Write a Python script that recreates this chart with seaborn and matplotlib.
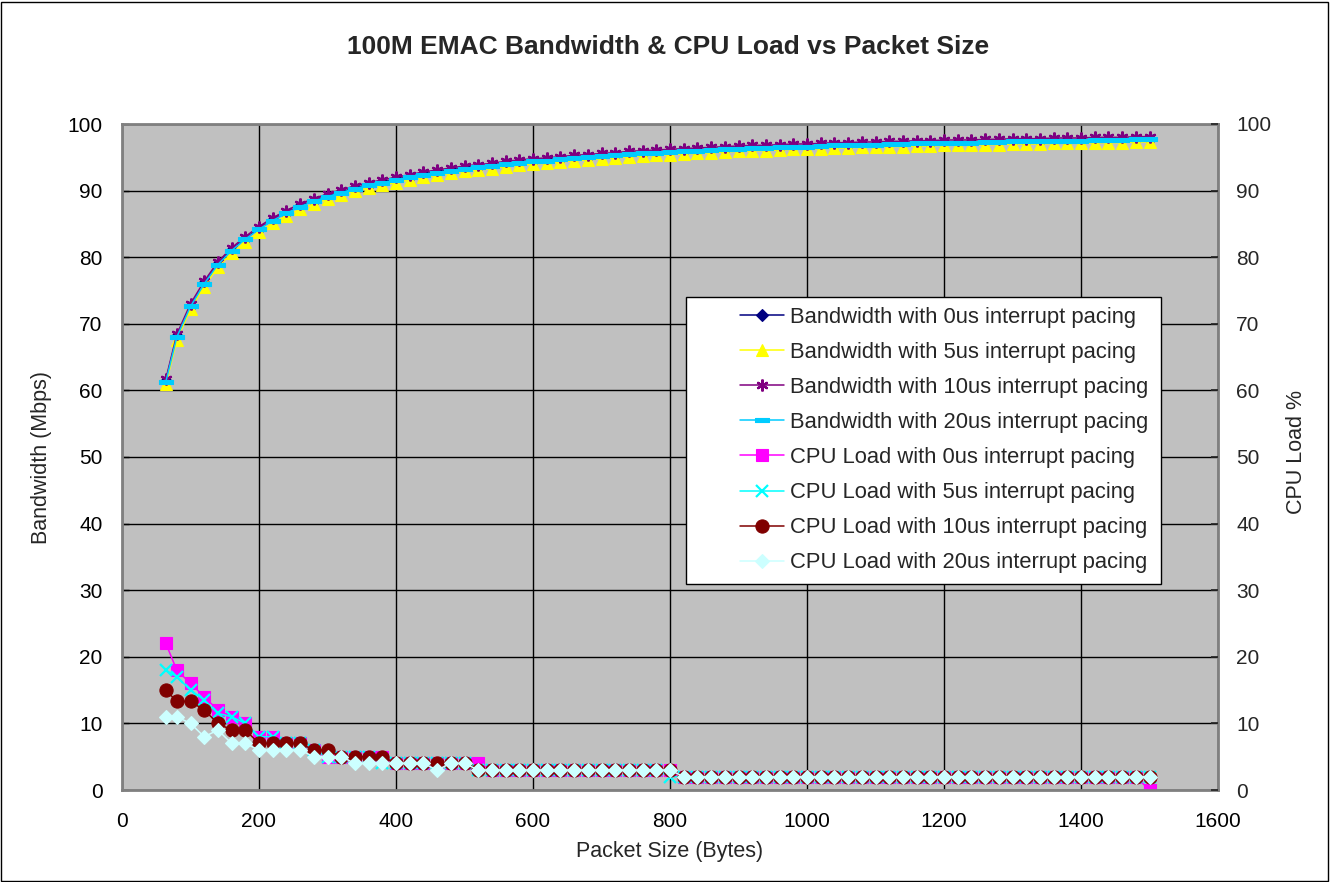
"""Recreate the 100M EMAC bandwidth and CPU load vs packet size chart."""

import matplotlib

matplotlib.use("Agg")
import matplotlib.pyplot as plt
import seaborn as sns
from matplotlib.patches import Rectangle

# Packet sizes (bytes)
sizes = [
    64, 80, 100, 120, 140, 160, 180, 200, 220, 240,
    260, 280, 300, 320, 340, 360, 380, 400, 420, 440,
    460, 480, 500, 520, 540, 560, 580, 600, 620, 640,
    660, 680, 700, 720, 740, 760, 780, 800, 820, 840,
    860, 880, 900, 920, 940, 960, 980, 1000, 1020, 1040,
    1060, 1080, 1100, 1120, 1140, 1160, 1180, 1200, 1220, 1240,
    1260, 1280, 1300, 1320, 1340, 1360, 1380, 1400, 1420, 1440,
    1460, 1480, 1500,
]

# Bandwidth (Mbps)
bw_0us = [
    61.4, 68.1, 72.7, 76.1, 79.0, 81.1, 82.8, 84.3, 85.6, 86.7,
    87.7, 88.5, 89.2, 89.8, 90.4, 90.9, 91.3, 91.7, 92.1, 92.5,
    92.8, 93.1, 93.4, 93.6, 93.8, 94.1, 94.3, 94.5, 94.6, 94.8,
    95.0, 95.1, 95.3, 95.4, 95.6, 95.7, 95.8, 95.9, 96.0, 96.1,
    96.2, 96.3, 96.4, 96.5, 96.5, 96.6, 96.7, 96.7, 96.8, 96.9,
    96.9, 97.0, 97.0, 97.1, 97.1, 97.2, 97.2, 97.3, 97.3, 97.3,
    97.4, 97.4, 97.5, 97.5, 97.5, 97.6, 97.6, 97.6, 97.7, 97.7,
    97.7, 97.8, 97.8,
]
bw_5us = [
    60.9, 67.6, 72.2, 75.6, 78.5, 80.6, 82.3, 83.8, 85.1, 86.2,
    87.2, 88.0, 88.7, 89.3, 89.9, 90.4, 90.8, 91.2, 91.6, 92.0,
    92.3, 92.6, 92.9, 93.1, 93.3, 93.6, 93.8, 94.0, 94.1, 94.3,
    94.5, 94.6, 94.8, 94.9, 95.1, 95.2, 95.3, 95.4, 95.5, 95.6,
    95.7, 95.8, 95.9, 96.0, 96.0, 96.1, 96.2, 96.2, 96.3, 96.4,
    96.4, 96.5, 96.5, 96.6, 96.6, 96.7, 96.7, 96.8, 96.8, 96.8,
    96.9, 96.9, 97.0, 97.0, 97.0, 97.1, 97.1, 97.1, 97.2, 97.2,
    97.2, 97.3, 97.3,
]
bw_10us = [
    61.7, 68.4, 73.0, 76.4, 79.3, 81.4, 83.1, 84.6, 85.9, 87.0,
    88.0, 88.8, 89.5, 90.1, 90.7, 91.2, 91.6, 92.0, 92.4, 92.8,
    93.1, 93.4, 93.7, 93.9, 94.1, 94.4, 94.6, 94.8, 94.9, 95.1,
    95.3, 95.4, 95.6, 95.7, 95.9, 96.0, 96.1, 96.2, 96.3, 96.4,
    96.5, 96.6, 96.7, 96.8, 96.8, 96.9, 97.0, 97.0, 97.1, 97.2,
    97.2, 97.3, 97.3, 97.4, 97.4, 97.5, 97.5, 97.6, 97.6, 97.6,
    97.7, 97.7, 97.8, 97.8, 97.8, 97.9, 97.9, 97.9, 98.0, 98.0,
    98.0, 98.1, 98.1,
]
bw_20us = [
    61.3, 68.0, 72.6, 76.0, 78.9, 81.0, 82.7, 84.2, 85.5, 86.6,
    87.6, 88.4, 89.1, 89.7, 90.3, 90.8, 91.2, 91.6, 92.0, 92.4,
    92.7, 93.0, 93.3, 93.5, 93.7, 94.0, 94.2, 94.4, 94.5, 94.7,
    94.9, 95.0, 95.2, 95.3, 95.5, 95.6, 95.7, 95.8, 95.9, 96.0,
    96.1, 96.2, 96.3, 96.4, 96.4, 96.5, 96.6, 96.6, 96.7, 96.8,
    96.8, 96.9, 96.9, 97.0, 97.0, 97.1, 97.1, 97.2, 97.2, 97.2,
    97.3, 97.3, 97.4, 97.4, 97.4, 97.5, 97.5, 97.5, 97.6, 97.6,
    97.6, 97.7, 97.7,
]

# CPU load (%)
cpu_0us = [
    22, 18, 16, 14, 12, 11, 10, 8, 8, 7,
    7, 6, 5, 5, 5, 5, 5, 4, 4, 4,
    4, 4, 4, 4, 3, 3, 3, 3, 3, 3,
    3, 3, 3, 3, 3, 3, 3, 3, 2, 2,
    2, 2, 2, 2, 2, 2, 2, 2, 2, 2,
    2, 2, 2, 2, 2, 2, 2, 2, 2, 2,
    2, 2, 2, 2, 2, 2, 2, 2, 2, 2,
    2, 2, 0,
]
cpu_5us = [
    18, 17, 15, 13.5, 11.5, 11, 10, 8, 8, 7,
    7, 6, 5, 5, 5, 5, 4, 4, 4, 4,
    4, 4, 4, 3, 3, 3, 3, 3, 3, 3,
    3, 3, 3, 3, 3, 3, 3, 2, 2, 2,
    2, 2, 2, 2, 2, 2, 2, 2, 2, 2,
    2, 2, 2, 2, 2, 2, 2, 2, 2, 2,
    2, 2, 2, 2, 2, 2, 2, 2, 2, 2,
    2, 2, 2,
]
cpu_10us = [
    15, 13.3, 13.3, 12, 10, 9, 9, 7, 7, 7,
    7, 6, 6, 5, 5, 5, 5, 4, 4, 4,
    4, 4, 4, 3, 3, 3, 3, 3, 3, 3,
    3, 3, 3, 3, 3, 3, 3, 3, 2, 2,
    2, 2, 2, 2, 2, 2, 2, 2, 2, 2,
    2, 2, 2, 2, 2, 2, 2, 2, 2, 2,
    2, 2, 2, 2, 2, 2, 2, 2, 2, 2,
    2, 2, 2,
]
cpu_20us = [
    11, 11, 10, 8, 9, 7, 7, 6, 6, 6,
    6, 5, 5, 5, 4, 4, 4, 4, 4, 4,
    3, 4, 4, 3, 3, 3, 3, 3, 3, 3,
    3, 3, 3, 3, 3, 3, 3, 3, 2, 2,
    2, 2, 2, 2, 2, 2, 2, 2, 2, 2,
    2, 2, 2, 2, 2, 2, 2, 2, 2, 2,
    2, 2, 2, 2, 2, 2, 2, 2, 2, 2,
    2, 2, 2,
]

x_ticks = [0, 200, 400, 600, 800, 1000, 1200, 1400, 1600]
y_ticks = [0, 10, 20, 30, 40, 50, 60, 70, 80, 90, 100]

DASH = [(-1, -0.35), (1, -0.35), (1, 0.35), (-1, 0.35), (-1, -0.35)]

# (label, values, color, marker, markersize)
SERIES = [
    ("Bandwidth with 0us interrupt pacing", bw_0us, "#000080", "D", 6.5),
    ("Bandwidth with 5us interrupt pacing", bw_5us, "#FFFF00", "^", 8),
    ("Bandwidth with 10us interrupt pacing", bw_10us, "#800080", (6, 2, 0), 8.5),
    ("Bandwidth with 20us interrupt pacing", bw_20us, "#00CCFF", DASH, 9.5),
    ("CPU Load with 0us interrupt pacing", cpu_0us, "#FF00FF", "s", 9),
    ("CPU Load with 5us interrupt pacing", cpu_5us, "#00FFFF", "x", 9),
    ("CPU Load with 10us interrupt pacing", cpu_10us, "#800000", "o", 9.5),
    ("CPU Load with 20us interrupt pacing", cpu_20us, "#CCFFFF", "D", 7.5),
]

FONT_TICK = 15
FONT_LABEL = 15.5
FONT_LEGEND = 15.8
FONT_TITLE = 19


def main():
    sns.set_theme(style="white")
    plt.rcParams["font.family"] = ["Liberation Sans", "DejaVu Sans"]

    W, H = 1330, 882
    fig = plt.figure(figsize=(W / 100, H / 100), dpi=100)
    left, right, top, bottom = 122, 1218, 124, 790
    ax = fig.add_axes([left / W, 1 - bottom / H, (right - left) / W, (bottom - top) / H])
    ax.set_facecolor("#C0C0C0")

    for label, vals, color, marker, ms in SERIES:
        assert len(vals) == len(sizes), label
        mew = 1.6 if marker == "x" or isinstance(marker, tuple) else 0.8
        sns.lineplot(
            x=sizes,
            y=vals,
            ax=ax,
            color=color,
            linewidth=1.1,
            marker=marker,
            markersize=ms,
            markeredgecolor=color,
            markerfacecolor=color,
            markeredgewidth=mew,
            label=label,
            legend=False,
        )

    ax.set_xlim(0, 1600)
    ax.set_ylim(0, 100)
    ax.set_xticks(x_ticks)
    ax.set_yticks(y_ticks)
    ax.grid(True, color="black", linewidth=1)
    ax.set_axisbelow(True)
    for sp in ax.spines.values():
        sp.set_color("#808080")
        sp.set_linewidth(2)
    ax.tick_params(axis="both", labelsize=FONT_TICK, colors="black", length=5,
                   direction="in", width=1)
    ax.tick_params(axis="y", pad=14)
    ax.tick_params(axis="x", pad=16)
    ax.set_xlabel("")
    ax.set_ylabel("")

    ax2 = ax.twinx()
    ax2.set_ylim(0, 100)
    ax2.set_yticks(y_ticks)
    ax2.tick_params(axis="y", labelsize=FONT_TICK, length=5, direction="in", pad=13)
    for sp in ax2.spines.values():
        sp.set_visible(False)

    fig.text(670 / W, 1 - 851 / H, "Packet Size (Bytes)", ha="center", va="center",
             fontsize=FONT_LABEL)
    fig.text(42 / W, 1 - 457 / H, "Bandwidth (Mbps)", ha="center", va="center",
             rotation=90, fontsize=FONT_LABEL)
    fig.text(1297 / W, 1 - 452 / H, "CPU Load %", ha="center", va="center",
             rotation=90, fontsize=FONT_LABEL)

    # legend box
    def to_ax(px, py):
        return (px - left) / (right - left), (bottom - py) / (bottom - top)

    x0, y0 = to_ax(686, 584)
    x1, y1 = to_ax(1161, 297)
    ax.add_patch(Rectangle((x0, y0), x1 - x0, y1 - y0, transform=ax.transAxes,
                           facecolor="white", edgecolor="black", linewidth=1,
                           zorder=4))
    handles, labels = ax.get_legend_handles_labels()
    lx, ly = to_ax(740, 307)
    leg = ax.legend(handles, labels, loc="upper left", bbox_to_anchor=(lx, ly),
                    frameon=False, fontsize=FONT_LEGEND, handlelength=2.0,
                    handletextpad=0.28, labelspacing=0.64, borderpad=0,
                    borderaxespad=0)
    leg.set_zorder(5)

    fig.text(668 / W, 1 - 47 / H, "100M EMAC Bandwidth & CPU Load vs Packet Size",
             ha="center", va="center", fontsize=FONT_TITLE, fontweight="bold")

    fig.patches.append(Rectangle((1 / W, 1 / H), (W - 3) / W, (H - 3) / H,
                                 transform=fig.transFigure, fill=False,
                                 edgecolor="black", linewidth=1))

    fig.savefig("out.png", dpi=100)
    plt.close(fig)


if __name__ == "__main__":
    main()
